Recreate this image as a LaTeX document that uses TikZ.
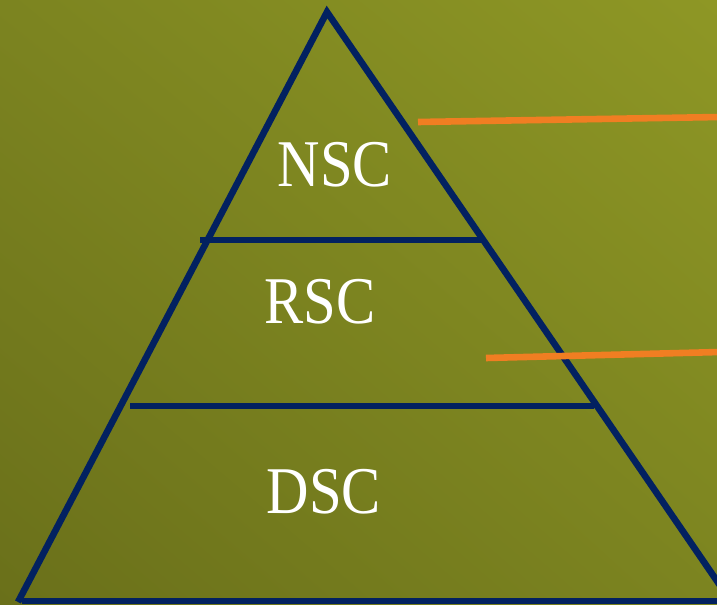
\documentclass[tikz,border=0pt]{standalone}
\usepackage{fontspec}
\setmainfont{Liberation Serif}
\usepackage{tikz}
\usetikzlibrary{shadings}
\definecolor{bgdark}{RGB}{106,112,26}
\definecolor{bgmid}{RGB}{124,132,32}
\definecolor{bglight}{RGB}{142,151,37}
\definecolor{pyrblue}{RGB}{2,33,96}
\definecolor{markorange}{RGB}{240,126,34}
\tikzstyle{side} = [draw=pyrblue, line width=5pt*0.75, line join=miter]
\tikzstyle{marker} = [draw=markorange, line width=5pt*0.75]
\tikzstyle{tierlabel} = [anchor=center, text=white, inner sep=0pt]
\tikzset{font={\fontsize{38}{44}\selectfont}}
\newcommand{\tiertext}[1]{\scalebox{0.88}[1]{#1}}

\begin{document}
\begin{tikzpicture}[x=0.02cm, y=-0.02cm]
  \useasboundingbox (0,0) rectangle (717,605);
  \clip (0,0) rectangle (717,605);
  \shade[lower left=bgdark, upper right=bglight, upper left=bgmid, lower right=bgmid]
    (0,605) rectangle (717,0);

  % pyramid corners
  \coordinate (apex) at (327,12);
  \coordinate (footL) at (18,602);
  \coordinate (footR) at (730,600);
  \coordinate (baseL) at (22,601);
  \coordinate (baseR) at (740,601);

  % tier borders
  \coordinate (cut1L) at (200,240);
  \coordinate (cut1R) at (485,240);
  \coordinate (cut2L) at (130,406);
  \coordinate (cut2R) at (594,406);

  % orange pointers
  \coordinate (ptr1A) at (418,122);
  \coordinate (ptr1B) at (720,117);
  \coordinate (ptr2A) at (486,358);
  \coordinate (ptr2B) at (720,352);

  \draw[side] (footL) -- (apex) -- (footR);
  \draw[side] (baseL) -- (baseR);
  \draw[side] (cut1L) -- (cut1R);
  \draw[side] (cut2L) -- (cut2R);

  \draw[marker] (ptr1A) -- (ptr1B);
  \draw[marker] (ptr2A) -- (ptr2B);

  \node[tierlabel] (nsc) at (335,165) {\tiertext{NSC}};
  \node[tierlabel] (rsc) at (320,302) {\tiertext{RSC}};
  \node[tierlabel] (dsc) at (324,492) {\tiertext{DSC}};
\end{tikzpicture}
\end{document}
